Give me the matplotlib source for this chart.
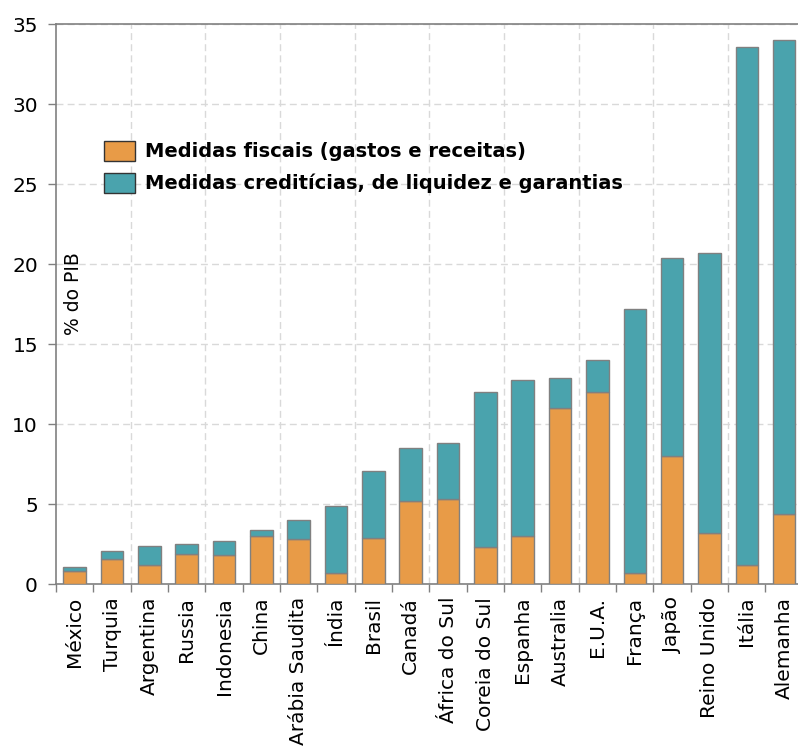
import numpy as np
import matplotlib
matplotlib.use("Agg")
from matplotlib import pyplot as plt

paises = ["México", "Turquia", "Argentina", "Russia", "Indonesia", "China",
          "Arábia Saudita", "Índia", "Brasil", "Canadá", "África do Sul",
          "Coreia do Sul", "Espanha", "Australia", "E.U.A.", "França",
          "Japão", "Reino Unido", "Itália", "Alemanha"]
fiscais = [0.8, 1.6, 1.2, 1.9, 1.8, 3.0, 2.8, 0.7, 2.9, 5.2, 5.3,
           2.3, 3.0, 11.0, 12.0, 0.7, 8.0, 3.2, 1.2, 4.4]
totais = [1.1, 2.1, 2.4, 2.5, 2.7, 3.4, 4.0, 4.9, 7.1, 8.5, 8.8,
          12.0, 12.8, 12.9, 14.0, 17.2, 20.4, 20.7, 33.6, 34.0]
creditos = [t - f for t, f in zip(totais, fiscais)]

laranja = "#E89B47"
azul = "#4AA3AD"
cinza = "#808080"

plt.rcParams["font.family"] = ["DejaVu Sans"]

fig = plt.figure(figsize=(7.98, 7.55), dpi=100)
ax = fig.add_axes([0.0702, 0.2261, 0.9357, 0.7417])

x = np.arange(len(paises))
b1 = ax.bar(x, fiscais, width=0.6, color=laranja, edgecolor=cinza, linewidth=1, zorder=3)
b2 = ax.bar(x, creditos, width=0.6, bottom=fiscais, color=azul, edgecolor=cinza, linewidth=1, zorder=3)

ax.set_xlim(-0.5, len(paises) - 0.5)
ax.set_ylim(0, 35)
ax.set_yticks(np.arange(0, 36, 5))

# grade tracejada: horizontal a cada 5, vertical a cada dois países
ax.yaxis.grid(True, color="#d9d9d9", linestyle=(0, (5, 3)), linewidth=1, zorder=0)
for xv in np.arange(1.5, len(paises) - 1, 2):
    ax.axvline(xv, color="#d9d9d9", linestyle=(0, (5, 3)), linewidth=1, zorder=0)

ax.set_xticks(x)
ax.set_xticklabels(paises, rotation=90, fontsize=14.5)
ax.set_xticks(np.arange(-0.5, len(paises)), minor=True)
ax.tick_params(axis="x", which="major", length=0, pad=9)
ax.tick_params(axis="x", which="minor", length=6, color=cinza, width=1)
ax.tick_params(axis="y", length=6, color=cinza, width=1, labelsize=14.5, pad=7)

for lado in ["left", "bottom", "top"]:
    ax.spines[lado].set_color(cinza)
    ax.spines[lado].set_linewidth(1.2)
ax.spines["right"].set_visible(False)

ax.text(0.024, 0.52, "% do PIB", transform=ax.transAxes, rotation=90,
        fontsize=13.5, ha="center", va="center")

leg = ax.legend([b1, b2], ["Medidas fiscais (gastos e receitas)",
                           "Medidas creditícias, de liquidez e garantias"],
                loc="upper left", bbox_to_anchor=(0.043, 0.82), frameon=False,
                prop={"weight": "bold", "size": 14},
                handlelength=1.6, handleheight=1.2, handletextpad=0.5,
                labelspacing=0.6, borderpad=0.3)
for h in leg.legend_handles:
    h.set_edgecolor("#333333")

fig.savefig("out.png", dpi=100)
